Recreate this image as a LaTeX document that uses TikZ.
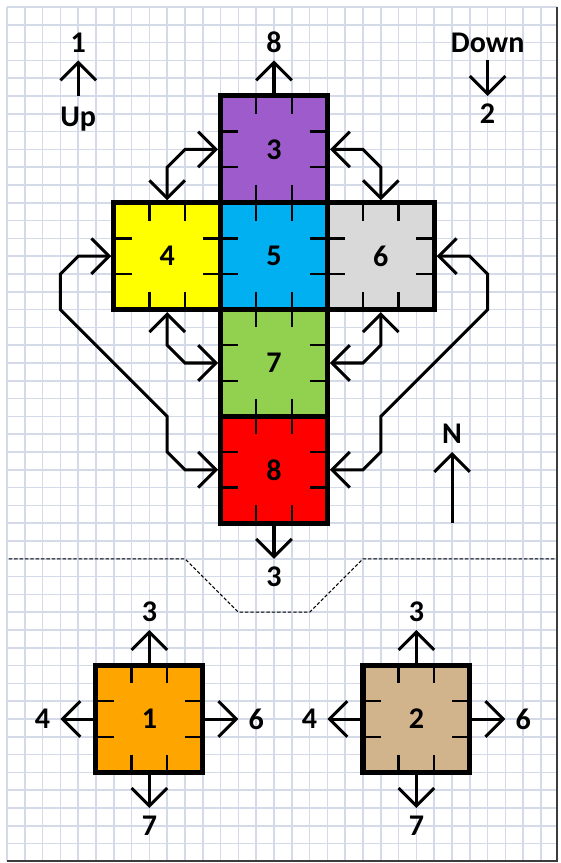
\documentclass[tikz,border=0pt]{standalone}
\usepackage{fontspec}
\setmainfont{Carlito}
\usetikzlibrary{arrows.meta}

\definecolor{gridC}{RGB}{212,218,232}
\definecolor{frameC}{RGB}{60,60,60}
\definecolor{purpleC}{RGB}{158,91,204}
\definecolor{yellowC}{RGB}{255,255,0}
\definecolor{blueC}{RGB}{0,176,240}
\definecolor{grayC}{RGB}{217,217,217}
\definecolor{greenC}{RGB}{146,208,80}
\definecolor{redC}{RGB}{255,0,0}
\definecolor{orangeC}{RGB}{255,165,0}
\definecolor{tanC}{RGB}{210,180,140}

\begin{document}
\begin{tikzpicture}[x=0.5cm,y=-0.5cm,
  every node/.style={font=\bfseries\fontsize{24}{28}\selectfont},
  face/.style={draw, line width=4pt, minimum size=3cm, inner sep=0pt, outer sep=0pt},
  lbl/.style={minimum size=1cm, inner sep=0pt, outer sep=0pt},
  ray/.style={-{Straight Barb[length=0.5cm,width=1cm]}, line width=2.4pt},
  twoway/.style={{Straight Barb[length=0.5cm,width=1cm]}-{Straight Barb[length=0.5cm,width=1cm]},
    line width=2.4pt, shorten <=2pt, shorten >=2pt},
  notch/.style={line width=1.8pt, dash pattern=on 1cm off 2cm, dash phase=0.5cm},
  cut/.style={line width=0.8pt, dash pattern=on 2.7pt off 1.6pt}]
\useasboundingbox (-0.393,-0.393) rectangle (31.07,48.09);
\fill[white] (-0.393,-0.393) rectangle (31.07,48.09);

% squared paper
\draw[gridC, line width=1.4pt, step=0.5cm] (0,0) grid (30.9,48);
\draw[frameC, line width=1.6pt] (30.9,0) -- (30.9,48) -- (0,48);

% net of the cube
\node[face, fill=purpleC] (S3) at (15,8) {3};
\node[face, fill=yellowC] (S4) at (9,14) {4};
\node[face, fill=blueC] (S5) at (15,14) {5};
\node[face, fill=grayC] (S6) at (21,14) {6};
\node[face, fill=greenC] (S7) at (15,20) {7};
\node[face, fill=redC] (S8) at (15,26) {8};

% the two loose faces
\node[face, fill=orangeC] (S1) at (8,40) {1};
\node[face, fill=tanC] (S2) at (23,40) {2};

\foreach \x/\y in {15/8,9/14,15/14,21/14,15/20,15/26,8/40,23/40}{
  \draw[notch] (\x-1,\y-3) -- (\x-1,\y+3);
  \draw[notch] (\x+1,\y-3) -- (\x+1,\y+3);
  \draw[notch] (\x-3,\y-1) -- (\x+3,\y-1);
  \draw[notch] (\x-3,\y+1) -- (\x+3,\y+1);
}

% labels
\node[lbl] (T8) at (15,2) {8};
\node[lbl] (T1) at (4,2) {1};
\node[anchor=base] (TU) at (4,6.69) {Up};
\node[lbl] (TD) at (27,2) {Down};
\node[lbl] (T2) at (27,6) {2};
\node[lbl] (TN) at (25,24) {N};
\node[lbl] (T3) at (15,32) {3};

\node[lbl] (P3) at (8,34) {3};
\node[lbl] (P4) at (2,40) {4};
\node[lbl] (P6) at (14,40) {6};
\node[lbl] (P7) at (8,46) {7};

\node[lbl] (Q3) at (23,34) {3};
\node[lbl] (Q4) at (17,40) {4};
\node[lbl] (Q6) at (29,40) {6};
\node[lbl] (Q7) at (23,46) {7};

\coordinate (upfoot) at (4,5);
\coordinate (nfoot) at (25,29);

% single arrows
\path[ray] (upfoot) edge (T1);
\path[ray] (TD) edge (T2);
\path[ray] (nfoot) edge (TN);
\path[ray] (S3) edge (T8);
\path[ray] (S8) edge (T3);

\path[ray] (S1) edge (P3);
\path[ray] (S1) edge (P4);
\path[ray] (S1) edge (P6);
\path[ray] (S1) edge (P7);

\path[ray] (S2) edge (Q3);
\path[ray] (S2) edge (Q4);
\path[ray] (S2) edge (Q6);
\path[ray] (S2) edge (Q7);

% edges that meet when folded
\draw[twoway] (S4.north) -- ++(0,-2) -- ++(1,-1) -- (S3.west);
\draw[twoway] (S3.east) -- ++(2,0) -- ++(1,1) -- (S6.north);
\draw[twoway] (S4.south) -- ++(0,2) -- ++(1,1) -- (S7.west);
\draw[twoway] (S6.south) -- ++(0,2) -- ++(-1,1) -- (S7.east);
\draw[twoway] (S4.west) -- ++(-2,0) -- ++(-1,1) -- ++(0,2) -- ++(6,6) -- ++(0,2) -- ++(1,1) -- (S8.west);
\draw[twoway] (S6.east) -- ++(2,0) -- ++(1,1) -- ++(0,2) -- ++(-6,6) -- ++(0,2) -- ++(-1,1) -- (S8.east);

% fold line
\draw[cut] (0.1,31) -- (10,31) -- (13,34) -- (17,34) -- (20,31) -- (30.8,31);

\end{tikzpicture}
\end{document}
